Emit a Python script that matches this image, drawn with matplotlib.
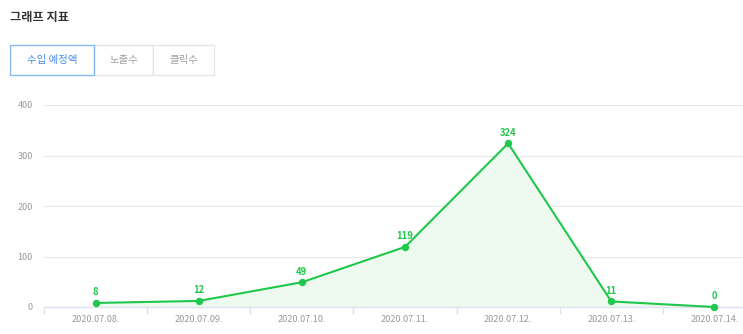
import matplotlib.pyplot as plt
from matplotlib.patches import Rectangle

plt.rcParams["font.family"] = ["Noto Sans CJK KR", "DejaVu Sans"]

dates = ["2020.07.08.", "2020.07.09.", "2020.07.10.", "2020.07.11.",
         "2020.07.12.", "2020.07.13.", "2020.07.14."]
revenue = [8, 12, 49, 119, 324, 11, 0]
y_ticks = [0, 100, 200, 300, 400]
tabs = ["수입 예정액", "노출수", "클릭수"]

GREEN = "#1fc84c"
FILL = "#eefaf0"
GRID = "#e8e8e8"
AXIS = "#dde3ee"
TICK_TXT = "#9a9a9a"
BLUE = "#4a90f0"
BLUE_BORDER = "#85b9f6"

W, H = 743, 334
fig = plt.figure(figsize=(W / 100, H / 100), dpi=100)
fig.patch.set_facecolor("white")

# title
fig.text(10 / W, 1 - 18 / H, "그래프 지표", fontsize=8.8, fontweight="bold",
         color="#333333", va="center", ha="left")

# tab buttons
tab_edges = [10, 94, 153, 214]
tab_top, tab_bot = 45, 75
for i, name in enumerate(tabs):
    x0, x1 = tab_edges[i], tab_edges[i + 1]
    active = i == 0
    fig.patches.append(Rectangle((x0 / W, 1 - tab_bot / H), (x1 - x0) / W,
                                 (tab_bot - tab_top) / H, transform=fig.transFigure,
                                 facecolor="white",
                                 edgecolor=BLUE_BORDER if active else "#e6e6e6",
                                 linewidth=1.0, zorder=2 if active else 1))
    fig.text((x0 + x1) / 2 / W, 1 - (tab_top + tab_bot) / 2 / H, name,
             fontsize=7.5, color=BLUE if active else "#a0a0a0",
             fontweight="medium" if active else "normal",
             ha="center", va="center", zorder=3)

# plot area: bands of ~103 px, last band runs past the right edge
left, right = 44, 766
bottom, top = 307, 105
ax = fig.add_axes([left / W, 1 - bottom / H, (right - left) / W, (bottom - top) / H])

x = list(range(len(dates)))
ax.fill_between(x, revenue, 0, color=FILL, zorder=1)
ax.plot(x, revenue, color=GREEN, linewidth=1.5, marker="o", markersize=4.3, zorder=3,
        clip_on=False)
for xi, v in zip(x, revenue):
    ax.annotate(str(v), (xi, v), xytext=(0, 4), textcoords="offset points",
                ha="center", va="bottom", fontsize=6.8, fontweight="bold",
                color=GREEN, zorder=4)

ax.set_xlim(-0.5, len(dates) - 0.5)
ax.set_ylim(0, 400)
ax.set_yticks(y_ticks)
ax.set_yticklabels([str(t) for t in y_ticks], fontsize=6.5, color=TICK_TXT)
ax.tick_params(axis="y", length=0, pad=8)

ax.set_xticks([i - 0.5 for i in range(len(dates) + 1)])
ax.set_xticklabels([])
ax.set_xticks(x, minor=True)
ax.set_xticklabels(dates, minor=True, fontsize=6.6, color=TICK_TXT)
ax.tick_params(axis="x", which="major", length=5, color=AXIS, width=1)
ax.tick_params(axis="x", which="minor", length=0, pad=6)

for s in ["left", "right", "top"]:
    ax.spines[s].set_visible(False)
ax.spines["bottom"].set_color(AXIS)
ax.spines["bottom"].set_linewidth(1)

ax.grid(axis="y", color=GRID, linewidth=0.8, zorder=0)
ax.set_axisbelow(True)

fig.savefig("out.png", dpi=100, facecolor="white")
